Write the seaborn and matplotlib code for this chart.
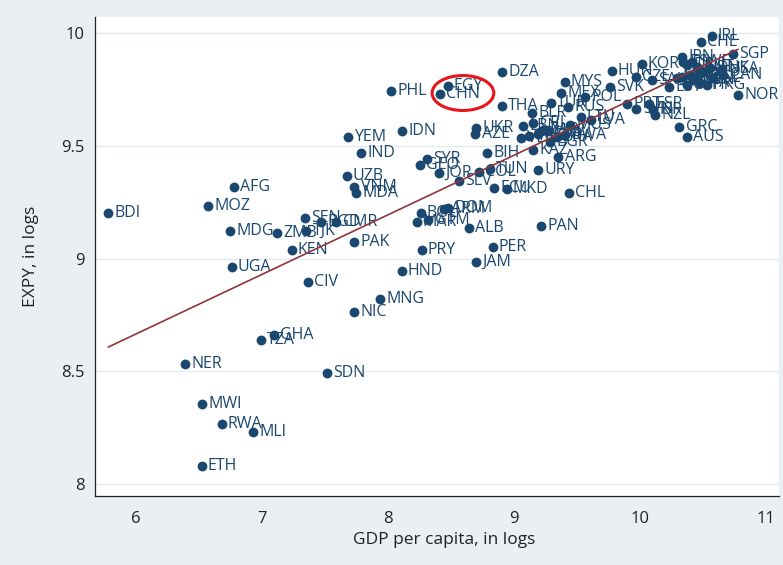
import pandas as pd
import matplotlib.pyplot as plt
from matplotlib.patches import Ellipse
import seaborn as sns

# Country codes, log GDP per capita and log EXPY
countries = ['BDI', 'AFG', 'MOZ', 'MDG', 'ZMB', 'UGA', 'KEN', 'SEN', 'TJK', 'BGD',
             'CMR', 'CIV', 'NIC', 'PAK', 'UZB', 'VNM', 'MDA', 'YEM', 'IND', 'IDN',
             'PHL', 'CHN', 'EGY', 'DZA', 'THA', 'UKR', 'AZE', 'MNG', 'HND', 'JAM',
             'PRY', 'PER', 'ALB', 'PAN', 'CHL', 'URY', 'ARG', 'KAZ', 'BIH', 'SYR',
             'GEO', 'JOR', 'SLV', 'COL', 'TUN', 'ECU', 'MKD', 'BOL', 'ARM', 'DOM',
             'MAR', 'GTM', 'NER', 'MWI', 'RWA', 'MLI', 'ETH', 'TZA', 'GHA', 'SDN',
             'MYS', 'MEX', 'POL', 'SVK', 'HUN', 'BLR', 'TUR', 'RUS', 'LTU', 'LVA',
             'LBN', 'CRI', 'ZAF', 'VEN', 'IRN', 'ROM', 'HRV', 'BRA', 'BGR', 'MUS',
             'BWA', 'PRT', 'SVN', 'ESP', 'ISR', 'NZL', 'GRC', 'AUS', 'KOR', 'CZE',
             'SAU', 'EST', 'JPN', 'FIN', 'DEU', 'SWE', 'AUT', 'GBR', 'FRA', 'BEL',
             'NLD', 'DNK', 'USA', 'CAN', 'ISL', 'ITA', 'HKG', 'TWN', 'CYP', 'MLT',
             'IRL', 'CHE', 'SGP', 'NOR']
gdp = [5.780, 6.778, 6.574, 6.746, 7.117, 6.760, 7.236, 7.341, 7.353, 7.468,
       7.591, 7.363, 7.730, 7.733, 7.672, 7.733, 7.746, 7.685, 7.786, 8.111,
       8.024, 8.413, 8.474, 8.905, 8.905, 8.701, 8.693, 7.937, 8.109, 8.698,
       8.267, 8.831, 8.643, 9.214, 9.437, 9.193, 9.352, 9.153, 8.788, 8.307,
       8.254, 8.407, 8.566, 8.722, 8.810, 8.844, 8.942, 8.260, 8.447, 8.476,
       8.228, 8.320, 6.389, 6.526, 6.680, 6.931, 6.521, 6.992, 7.095, 7.513,
       9.402, 9.373, 9.566, 9.762, 9.775, 9.143, 9.290, 9.429, 9.528, 9.611,
       9.074, 9.153, 9.233, 9.056, 9.119, 9.190, 9.272, 9.339, 9.286, 9.444,
       9.405, 9.897, 9.972, 10.071, 10.106, 10.119, 10.312, 10.371, 10.013, 9.968,
       10.093, 10.233, 10.331, 10.344, 10.371, 10.410, 10.450, 10.331, 10.397, 10.463,
       10.503, 10.556, 10.651, 10.661, 10.582, 10.476, 10.529, 10.423, 10.371, 10.291,
       10.569, 10.484, 10.734, 10.778]
expy = [9.200, 9.318, 9.233, 9.122, 9.112, 8.961, 9.038, 9.181, 9.124, 9.163,
        9.163, 8.897, 8.764, 9.075, 9.367, 9.318, 9.289, 9.537, 9.469, 9.565,
        9.744, 9.729, 9.766, 9.825, 9.678, 9.577, 9.552, 8.819, 8.945, 8.986,
        9.038, 9.050, 9.134, 9.144, 9.292, 9.392, 9.451, 9.481, 9.469, 9.440,
        9.415, 9.378, 9.345, 9.382, 9.396, 9.311, 9.307, 9.203, 9.220, 9.226,
        9.163, 9.171, 8.531, 8.355, 8.266, 8.229, 8.080, 8.639, 8.661, 8.494,
        9.781, 9.735, 9.716, 9.762, 9.833, 9.644, 9.688, 9.670, 9.629, 9.616,
        9.587, 9.603, 9.570, 9.533, 9.543, 9.552, 9.565, 9.540, 9.518, 9.592,
        9.548, 9.685, 9.663, 9.685, 9.659, 9.636, 9.584, 9.537, 9.861, 9.803,
        9.792, 9.762, 9.895, 9.873, 9.858, 9.873, 9.851, 9.806, 9.814, 9.814,
        9.828, 9.843, 9.839, 9.814, 9.799, 9.777, 9.769, 9.792, 9.769, 9.799,
        9.988, 9.960, 9.907, 9.723]

x_ticks = [6, 7, 8, 9, 10, 11]
y_ticks = [8, 8.5, 9, 9.5, 10]
y_tick_labels = ['8', '8.5', '9', '9.5', '10']

df = pd.DataFrame({'country': countries, 'gdp': gdp, 'expy': expy})

navy = '#1a476f'
maroon = '#90353b'
bg = '#e9eff2'

sns.set_theme(style='white')
plt.rcParams['font.family'] = ['Open Sans', 'DejaVu Sans']

fig = plt.figure(figsize=(7.83, 5.65), dpi=100)
fig.set_facecolor(bg)
ax = fig.add_axes([0.1213, 0.1221, 0.8736, 0.8478])
ax.set_facecolor('white')

# scatter of countries
sns.scatterplot(data=df, x='gdp', y='expy', ax=ax, color=navy, s=50,
                edgecolor=navy, linewidth=0, zorder=3, legend=False)

# labels to the right of each dot
for _, r in df.iterrows():
    ax.annotate(r['country'], (r['gdp'], r['expy']), xytext=(4.5, 0),
                textcoords='offset points', va='center', ha='left',
                fontsize=11.5, color=navy, zorder=4)

# fitted line
sns.regplot(data=df, x='gdp', y='expy', ax=ax, scatter=False, ci=None,
            truncate=True, line_kws={'color': maroon, 'lw': 1.2, 'zorder': 5})

# red ring round CHN / EGY
ax.add_patch(Ellipse((8.595, 9.734), 0.49, 0.155, fill=False,
                     edgecolor='#e8141b', lw=2.2, zorder=6))

ax.set_xlim(5.675, 11.103)
ax.set_ylim(7.947, 10.071)
ax.set_xticks(x_ticks)
ax.set_yticks(y_ticks)
ax.set_yticklabels(y_tick_labels)
ax.yaxis.grid(True, color='#e3eaec', lw=1)
ax.xaxis.grid(False)
ax.set_axisbelow(True)

for side in ['top', 'right']:
    ax.spines[side].set_visible(False)
for side in ['left', 'bottom']:
    ax.spines[side].set_color('#222222')
    ax.spines[side].set_linewidth(0.9)

ax.tick_params(axis='both', direction='out', length=5, width=0.8,
               color='#222222', labelsize=12, labelcolor='#222222', pad=2.5)
ax.tick_params(axis='x', pad=5.5)

ax.set_xlabel('GDP per capita, in logs', fontsize=12.5, color='#222222')
ax.set_ylabel('EXPY, in logs', fontsize=12.5, color='#222222')
ax.xaxis.set_label_coords(0.51, -0.076)
ax.yaxis.set_label_coords(-0.082, 0.5)

fig.savefig('out.png', dpi=100, facecolor=bg)
